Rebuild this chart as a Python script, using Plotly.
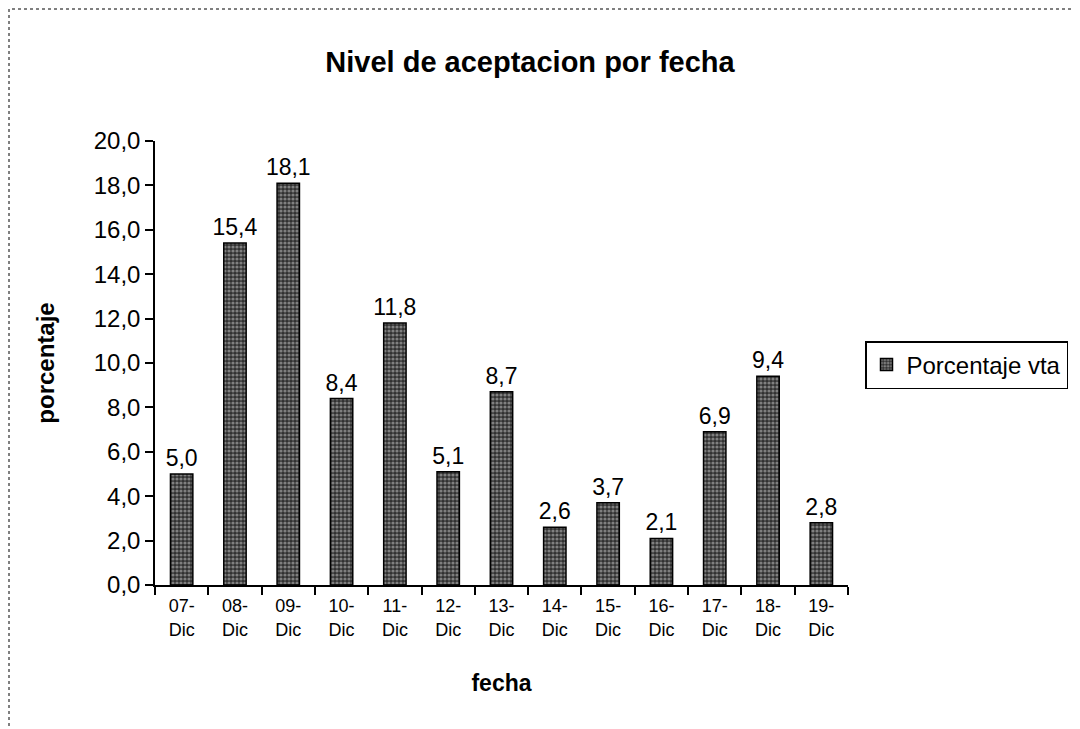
import plotly.graph_objects as go

categories = ["07-<br>Dic", "08-<br>Dic", "09-<br>Dic", "10-<br>Dic", "11-<br>Dic", "12-<br>Dic", "13-<br>Dic",
              "14-<br>Dic", "15-<br>Dic", "16-<br>Dic", "17-<br>Dic", "18-<br>Dic", "19-<br>Dic"]
values = [5.0, 15.4, 18.1, 8.4, 11.8, 5.1, 8.7, 2.6, 3.7, 2.1, 6.9, 9.4, 2.8]
labels = [f"{v:.1f}".replace(".", ",") for v in values]

FONT = "Arial, Liberation Sans, sans-serif"
W, H = 1072, 721
L, R, T, B = 147, 232, 133, 144
PW, PH = W - L - R, H - T - B

fig = go.Figure()
fig.add_trace(go.Bar(
    x=categories, y=values, name="Porcentaje vta",
    text=labels, textposition="outside", cliponaxis=False, constraintext="none",
    textfont=dict(family=FONT, size=23, color="black"),
    width=0.42,
    marker=dict(color="#303030", line=dict(color="black", width=1.5),
                pattern=dict(shape=".", fgcolor="#d0d0d0", size=4, solidity=0.5)),
))

fig.update_layout(
    width=W, height=H,
    paper_bgcolor="white", plot_bgcolor="white",
    separators=",.",
    margin=dict(l=L, r=R, t=T, b=B, autoexpand=False),
    title=dict(text="<b>Nivel de aceptacion por fecha</b>", x=522 / W, xanchor="center",
               y=1 - 54 / H, yanchor="middle",
               font=dict(family=FONT, size=29, color="black")),
    font=dict(family=FONT, color="black"),
    showlegend=True,
    legend=dict(x=(857 - L) / PW, y=(577 - 357) / PH, xanchor="left", yanchor="middle",
                bordercolor="black", borderwidth=1.5, bgcolor="white",
                font=dict(family=FONT, size=24, color="black"),
                itemwidth=30, tracegroupgap=0),
)
fig.update_xaxes(
    title=dict(text="<b>fecha</b>", font=dict(family=FONT, size=23), standoff=36),
    range=[-0.5, 12.5], showline=True, linecolor="black", linewidth=1.5,
    ticks="outside", ticklen=8, tickcolor="black", tickwidth=1.5, tickson="boundaries",
    tickfont=dict(family=FONT, size=18), ticklabelstandoff=4, showgrid=False,
)
fig.update_yaxes(
    title=dict(text="<b>porcentaje</b>", font=dict(family=FONT, size=24), standoff=32),
    range=[0, 20], dtick=2, tickformat=".1f",
    showline=True, linecolor="black", linewidth=1.5,
    ticks="outside", ticklen=8, tickcolor="black", tickwidth=2,
    tickfont=dict(family=FONT, size=24), showgrid=False, zeroline=False,
)
# outer chart border (dotted)
fig.add_shape(type="rect", xref="paper", yref="paper",
              x0=(1 - L) / PW, x1=(W + 20 - L) / PW,
              y0=(T + PH - (H + 20)) / PH, y1=(T + PH - 1) / PH,
              line=dict(color="black", width=1, dash="dot"))
fig.write_html("out.html")
